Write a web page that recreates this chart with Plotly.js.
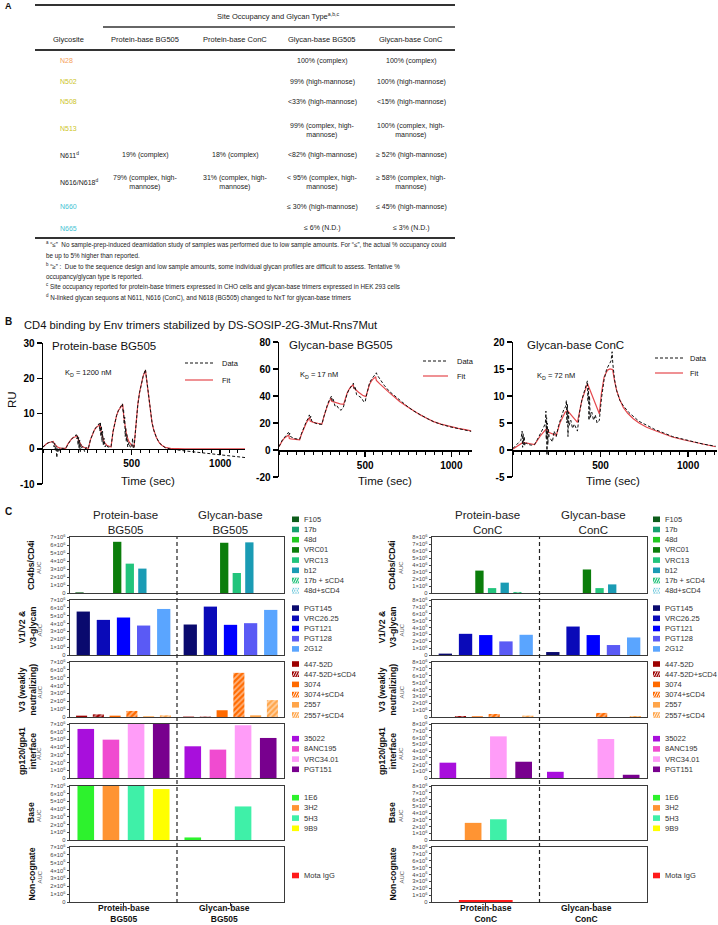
<!DOCTYPE html>
<html><head><meta charset="utf-8">
<script src="https://cdn.plot.ly/plotly-3.0.1.min.js"></script>
<style>html,body{margin:0;padding:0;background:#fff;}#chart{width:718px;height:925px;}</style>
</head><body><div id="chart"></div>
<script>
const FONT = 'Liberation Sans, Arial, sans-serif';
const W = 718, H = 925;
const PX = x => x / W, PY = y => 1 - y / H;

// ---------- Panel A: table ----------
const tableHeaders = ['Glycosite','Protein-base BG505','Protein-base ConC','Glycan-base BG505','Glycan-base ConC'];
const glycosites = ['N28','N502','N508','N513','N611<sup>d</sup>','N616/N618<sup>d</sup>','N660','N665'];
const siteColors = ['#f5a05a','#cdc51f','#cdc51f','#cdc51f','#222','#222','#45c3d3','#45c3d3'];
const proteinBG505 = ['','','','','19% (complex)','79% (complex, high-<br>mannose)','',''];
const proteinConC = ['','','','','18% (complex)','31% (complex, high-<br>mannose)','',''];
const glycanBG505 = ['100% (complex)','99% (high-mannose)','&lt;33% (high-mannose)','99% (complex, high-<br>mannose)','&lt;82% (high-mannose)','&lt; 95% (complex, high-<br>mannose)','≤ 30% (high-mannose)','≤ 6% (N.D.)'];
const glycanConC = ['100% (complex)','100% (high-mannose)','&lt;15% (high-mannose)','100% (complex, high-<br>mannose)','≥ 52% (high-mannose)','≥ 58% (complex, high-<br>mannose)','≤ 45% (high-mannose)','≤ 3% (N.D.)'];
const footnotes = [
 '<sup>a</sup> “≤”  No sample-prep-induced deamidation study of samples was performed due to low sample amounts. For “≤”, the actual % occupancy could',
 'be up to 5% higher than reported.',
 '<sup>b</sup> “≥” :  Due to the sequence design and low sample amounts, some individual glycan profiles are difficult to assess. Tentative %',
 'occupancy/glycan type is reported.',
 '<sup>c</sup> Site occupancy reported for protein-base trimers expressed in CHO cells and glycan-base trimers expressed in HEK 293 cells',
 '<sup>d</sup> N-linked glycan sequons at N611, N616 (ConC), and N618 (BG505) changed to NxT for glycan-base trimers'
];

// ---------- Panel B: SPR sensorgrams ----------
const sprTitles = ['Protein-base BG505','Glycan-base BG505','Glycan-base ConC'];
const sprKD = ['K<sub>D</sub> = 1200 nM','K<sub>D</sub> = 17 nM','K<sub>D</sub> = 72 nM'];
const pbFitT = [0,10,20,30,40,50,58,65,75,85,100,115,128,140,150,160,170,180,194,200,210,220,235,250,256,268,280,290,300,310,322,328,335,345,360,378,384,395,405,415,425,440,450,456,463,472,485,500,514,525,535,545,555,565,578,585,595,605,615,625,640,655,670,690,720,800,900,1000,1140];
const pbFitRU = [0.5,1.0,1.4,1.7,1.9,2.0,2.05,1.3,0.7,0.4,0.2,0.1,0.1,1.3,2.1,2.7,3.1,3.4,3.6,2.4,1.3,0.7,0.3,0.1,0.1,2.6,4.3,5.3,6.0,6.5,6.9,4.8,3.2,1.9,1.0,0.5,0.5,4.8,7.5,9.4,10.8,12.0,12.6,9.0,6.2,3.8,2.0,1.0,0.6,7.5,12.5,16.0,18.6,20.6,22.3,19.5,14.5,10.5,7.5,5.3,3.2,1.8,1.0,0.4,0.1,0,0,0,0];
const pbDataT = [0,10,20,30,40,50,56,60,63,66,70,74,78,82,88,95,105,115,128,140,150,160,170,180,188,192,195,198,201,204,207,210,214,218,225,235,242,250,256,268,280,290,300,310,318,321,324,327,330,333,336,340,344,350,358,365,378,384,395,405,415,425,440,448,452,455,458,461,464,467,470,474,478,485,492,500,506,509,514,525,535,545,555,565,578,585,595,605,615,625,640,655,670,690,720,800,900,1000,1140];
const pbDataRU = [0.5,1.0,1.4,1.7,1.9,2.0,1.9,1.2,0.5,1.6,-0.5,0.8,-2.5,0.3,-1.0,0.2,0.1,0.1,0.1,1.3,2.0,2.7,3.1,3.5,4.0,2.8,3.8,1.0,3.2,0.0,2.5,-1.0,1.2,0.3,0.6,-0.8,0.3,0.1,0.1,2.6,4.3,5.4,6.1,6.6,7.2,5.0,7.6,3.5,6.5,2.0,5.0,1.0,3.0,0.5,1.2,0.5,0.4,0.5,4.8,7.5,9.4,10.8,12.0,12.8,10.5,11.0,7.0,9.0,3.5,6.0,2.0,4.0,0.5,1.8,0.5,0.3,3.0,0.0,0.5,7.5,12.5,16.0,18.6,20.5,22.5,19.5,14.5,10.5,7.5,5.3,3.2,1.8,1.0,0.3,-0.1,-0.6,-1.2,-1.8,-2.5];
const gbFitT = [0,10,20,30,40,50,57,60,70,90,110,120,130,140,150,160,170,178,181,200,225,249,260,270,280,290,303,306,330,355,375,385,395,405,415,431,434,460,485,504,515,525,535,545,561,565,585,609,640,667,700,743,780,820,860,897,940,992,1040,1088,1115];
const gbFitRU = [2.5,5.0,7.0,8.6,9.8,10.6,11.0,8.5,8.2,7.9,7.7,7.6,11.5,15.0,18.0,20.5,22.5,24.2,21.5,20.5,19.8,19.2,24.5,29.0,32.5,35.5,38.5,36.0,35.0,34.2,33.8,38.5,42.0,44.5,46.5,48.3,46.0,43.0,40.5,39.5,45.0,48.5,50.8,52.5,54.0,51.5,49.0,46.0,42.5,39.6,36.0,32.2,29.0,26.0,23.3,21.0,19.2,17.3,16.0,14.9,14.2];
const gbDataT = [0,10,20,30,40,50,55,58,62,66,72,90,110,120,130,140,150,160,170,176,180,184,190,200,225,249,260,270,280,290,300,305,309,315,325,335,350,360,372,385,395,405,415,425,432,436,442,450,465,480,490,500,505,515,525,535,545,555,565,570,590,610,640,667,700,743,780,820,860,897,940,992,1040,1088,1115];
const gbDataRU = [2.5,5.2,7.5,9.0,10.5,11.5,13.0,11.0,12.5,10.0,9.5,8.5,8.0,8.0,12.0,15.5,18.5,21.5,23.5,26.0,23.5,25.0,21.5,20.5,19.2,19.0,24.5,29.5,33.0,36.5,38.5,40.0,36.0,37.5,32.5,33.0,30.0,29.5,31.0,37.5,41.5,44.5,46.5,48.0,49.5,45.5,47.0,41.0,40.0,38.5,36.0,35.5,39.0,45.5,49.5,52.0,53.8,55.5,57.2,55.5,51.5,48.0,43.5,40.5,36.8,32.5,29.0,26.0,23.3,21.0,19.0,17.2,15.8,14.6,13.8];
const gcFitT = [0,57,123,156,190,203,247,269,298,311,368,393,412,425,493,505,520,540,554,569,580,592,610,630,655,687,720,763,810,858,910,972,1030,1085,1157];
const gcFitRU = [0.2,1.4,1.0,2.6,3.9,3.3,2.7,5.1,7.0,7.3,5.1,9.2,11.0,12.3,6.7,10.5,13.5,14.8,15.0,14.9,12.8,11.0,9.3,7.9,6.8,5.8,5.0,4.2,3.6,3.0,2.4,1.9,1.5,1.1,0.6];
const gcDataT = [0,15,30,45,52,55,58,61,64,67,75,90,105,123,140,160,175,185,188,190,192,194,196,199,202,206,215,225,235,247,260,275,290,300,305,308,311,314,317,320,330,340,350,368,380,395,410,420,425,428,431,434,437,441,450,460,470,480,493,505,520,535,550,560,566,570,580,592,610,630,660,687,720,763,810,858,910,972,1030,1085,1157];
const gcDataRU = [0.3,0.8,1.3,1.8,3.5,0.5,3.0,1.0,2.5,0.8,1.3,1.0,0.9,1.0,2.0,3.2,4.2,5.0,7.2,2.0,6.0,-1.0,5.0,1.0,4.0,2.5,2.0,1.5,3.5,2.5,4.5,6.0,7.5,8.0,9.2,5.0,8.5,2.5,7.0,4.5,5.5,4.0,4.8,3.5,7.0,9.5,11.0,12.2,12.8,9.0,11.5,5.5,10.0,6.0,7.0,5.5,6.5,5.0,5.5,9.5,13.0,15.0,16.0,16.5,18.2,16.0,13.0,11.0,9.2,8.2,7.0,6.2,5.3,4.6,3.8,3.2,2.5,2.0,1.5,1.1,0.7];
const sprYTicks = [[-10,0,10,20,30],[-20,0,20,40,60,80],[-5,0,5,10,15,20]];
const sprXTicks = [500,1000];

// ---------- Panel C: AUC bar panels ----------
const bgCats = ['Protein-base BG505','Glycan-base BG505'];
const ccCats = ['Protein-base ConC','Glycan-base ConC'];
const panelLabels = ['CD4bs/CD4i','V1/V2 &amp;<br>V3-glycan','V3 (weakly<br>neutralizing)','gp120/gp41<br>interface','Base','Non-cognate'];

const cd4Names = ['F105','17b','48d','VRC01','VRC13','b12','17b + sCD4','48d+sCD4'];
const cd4_BG505_protein = [0.08e6,0,0,6.4e6,3.67e6,3.05e6,0,0];
const cd4_BG505_glycan  = [0,0,0,6.28e6,2.5e6,6.33e6,0,0];
const cd4_ConC_protein  = [0,0,0,3.2e6,0.7e6,1.48e6,0.15e6,0];
const cd4_ConC_glycan   = [0,0,0,3.36e6,0.7e6,1.23e6,0,0];

const v1v2Names = ['PGT145','VRC26.25','PGT121','PGT128','2G12'];
const v1v2_BG505_protein = [5.53e6,4.47e6,4.77e6,3.75e6,5.86e6];
const v1v2_BG505_glycan  = [3.88e6,6.16e6,3.84e6,4.05e6,5.74e6];
const v1v2_ConC_protein  = [0.2e6,3.08e6,2.9e6,1.98e6,2.94e6];
const v1v2_ConC_glycan   = [0.43e6,4.14e6,2.9e6,1.45e6,2.55e6];

const v3Names = ['447-52D','447-52D+sCD4','3074','3074+sCD4','2557','2557+sCD4'];
const v3_BG505_protein = [0.17e6,0.34e6,0.17e6,0.77e6,0.09e6,0.21e6];
const v3_BG505_glycan  = [0.05e6,0.05e6,0.86e6,5.62e6,0.21e6,2.15e6];
const v3_ConC_protein  = [0,0.15e6,0.1e6,0.44e6,0,0.2e6];
const v3_ConC_glycan   = [0,0,0,0.59e6,0,0.15e6];

const gpNames = ['35022','8ANC195','VRC34.01','PGT151'];
const gp_BG505_protein = [6.36e6,4.97e6,7.0e6,7.0e6];
const gp_BG505_glycan  = [4.11e6,3.68e6,6.84e6,5.19e6];
const gp_ConC_protein  = [2.27e6,0,6.17e6,2.41e6];
const gp_ConC_glycan   = [0.92e6,0,5.78e6,0.48e6];

const baseNames = ['1E6','3H2','5H3','9B9'];
const base_BG505_protein = [7.0e6,7.0e6,7.0e6,6.6e6];
const base_BG505_glycan  = [0.33e6,0,4.35e6,0];
const base_ConC_protein  = [0,2.54e6,3.07e6,0];
const base_ConC_glycan   = [0,0,0,0];

const ncNames = ['Mota IgG'];
const nc_BG505_protein = [0];
const nc_BG505_glycan  = [0];
const nc_ConC_protein  = [0.3e6];
const nc_ConC_glycan   = [0];

// styles
const cd4Colors = ['#0d5c1a','#17a070','#22c922','#0b7d0b','#22c47c','#1a9bb4','#2ac47e','#72c9dc'];
const cd4Patterns = ['','','','','','','/','x'];
const v1v2Colors = ['#0a0a6e','#0a0ab8','#0000ff','#5a5af5','#5aa5ff'];
const v3Colors = ['#9c0000','#9c0000','#ff6a00','#ff6a00','#ffa54a','#ffa54a'];
const v3Patterns = ['','/','','/','','/'];
const gpColors = ['#a80fdc','#f04bd0','#ff9cf8','#78008e'];
const baseColors = ['#2df22d','#ff9433','#3ff0a8','#ffff00'];
const ncColors = ['#ff1a1a'];

// ---------- build ----------
const traces = [], annotations = [], shapes = [];
const layout = {width:W, height:H, margin:{l:0,r:0,t:0,b:0,pad:0}, autosize:false,
  paper_bgcolor:'#fff', plot_bgcolor:'rgba(0,0,0,0)', showlegend:false,
  barmode:'group', bargap:0.06, bargroupgap:0.34, font:{family:FONT}};

function ann(text,x,y,o={}){
  annotations.push({text, xref:'paper', yref:'paper', x:PX(x), y:PY(y), showarrow:false,
    xanchor:o.xa||'center', yanchor:o.ya||'middle', textangle:o.angle||0, align:o.align||'center',
    font:{family:FONT, size:o.size||7, color:o.color||'#222'}});
}
function hline(x0,x1,y,w,color,dash){
  shapes.push({type:'line', xref:'paper', yref:'paper', x0:PX(x0), x1:PX(x1), y0:PY(y), y1:PY(y),
    line:{width:w, color:color||'#222', dash:dash||'solid'}});
}

// Panel letters
ann('<b>A</b>',3,6,{xa:'left',size:9,color:'#111'});
ann('<b>B</b>',3,321,{xa:'left',size:10,color:'#111'});
ann('<b>C</b>',3,511,{xa:'left',size:10,color:'#111'});

// Table
hline(35,455,5,2,'#333');
hline(103,455,27,1.3,'#333');
hline(35,455,50,1.8,'#333');
hline(35,455,238,1.8,'#333');
ann('Site Occupancy and Glycan Type<sup>a,b,c</sup>',278,16,{size:7.5});
const colCenters = [68,145,235,322,411];
tableHeaders.forEach((h,i)=>ann(h,colCenters[i],39,{size:7.5}));
const rowY = [61,82,102,130,155,182,207,228];
const cols = [proteinBG505, proteinConC, glycanBG505, glycanConC];
glycosites.forEach((g,r)=>{
  ann(g,58,r===3?128:rowY[r],{xa:'left',size:7,color:siteColors[r]});
  cols.forEach((c,ci)=>{ if(c[r]) ann(c[r],colCenters[ci+1],rowY[r],{size:7}); });
});
const footY = [245,256,267,277,287,297];
footnotes.forEach((f,i)=>ann(f,44,footY[i],{xa:'left',size:6.3,align:'left'}));

// Panel B
ann('CD4 binding by Env trimers stabilized by DS-SOSIP-2G-3Mut-Rns7Mut',22,325,{xa:'left',size:11.2,color:'#111'});
const sprSeries = [[pbFitT,pbFitRU,pbDataT,pbDataRU],[gbFitT,gbFitRU,gbDataT,gbDataRU],[gcFitT,gcFitRU,gcDataT,gcDataRU]];
const sprGeom = [
  {x:[43,245], y:[343,484], xr:[0,1140], yr:[-10,30], title:[50,346], kd:[63,373], leg:[185,213,363,380,220], tx:148},
  {x:[279,472], y:[342,477], xr:[0,1120], yr:[-20,80], title:[287,345], kd:[298,375], leg:[423,448,361,376,455], tx:385},
  {x:[513,717], y:[342,477], xr:[0,1165], yr:[-5,20], title:[525,345], kd:[535,376], leg:[655,683,358,373,688], tx:613}
];
sprGeom.forEach((g,i)=>{
  const n = i+1, sfx = n===1?'':String(n);
  const zeroPx = g.y[0] + (g.yr[1]-0)/(g.yr[1]-g.yr[0])*(g.y[1]-g.y[0]);
  layout['xaxis'+sfx] = {domain:[PX(g.x[0]),PX(g.x[1])], range:g.xr, anchor:'free', position:PY(zeroPx),
    showline:true, linecolor:'#000', linewidth:1.5, showgrid:false, zeroline:false,
    ticks:'outside', ticklen:5, tickwidth:1.5, tickcolor:'#000',
    tickmode:'array', tickvals:sprXTicks, ticktext:sprXTicks.map(v=>'<b>'+v+'</b>'),
    tickfont:{family:FONT,size:10,color:'#000'},
    minor:{tickmode:'linear', tick0:0, dtick:50, ticks:'outside', ticklen:3, tickwidth:1, tickcolor:'#000'}};
  layout['yaxis'+sfx] = {domain:[PY(g.y[1]),PY(g.y[0])], range:g.yr, anchor:'x'+sfx,
    showline:true, linecolor:'#000', linewidth:1.5, showgrid:false, zeroline:false,
    ticks:'outside', ticklen:5, tickwidth:1.5, tickcolor:'#000',
    tickmode:'array', tickvals:sprYTicks[i], ticktext:sprYTicks[i].map(v=>'<b>'+v+'</b>'),
    tickfont:{family:FONT,size:10,color:'#000'}};
  const s = sprSeries[i];
  traces.push({type:'scatter', mode:'lines', x:s[0], y:s[1], xaxis:'x'+sfx, yaxis:'y'+sfx,
    line:{color:'#e5484d', width:1.2}, hoverinfo:'skip'});
  traces.push({type:'scatter', mode:'lines', x:s[2], y:s[3], xaxis:'x'+sfx, yaxis:'y'+sfx,
    line:{color:'#111', width:1, dash:'3px,2px'}, hoverinfo:'skip'});
  ann(sprTitles[i], g.title[0], g.title[1], {xa:'left', size:11.5, color:'#111'});
  ann(sprKD[i], g.kd[0], g.kd[1], {xa:'left', size:7.5, color:'#111'});
  hline(g.leg[0], g.leg[1], g.leg[2], 1, '#111', '3px,2px');
  hline(g.leg[0], g.leg[1], g.leg[3], 1.2, '#e5484d');
  ann('Data', g.leg[4], g.leg[2], {xa:'left', size:7.5, color:'#111'});
  ann('Fit', g.leg[4], g.leg[3], {xa:'left', size:7.5, color:'#111'});
  ann('Time (sec)', g.tx, 481, {size:11.5, color:'#111'});
});
ann('RU',12,400,{angle:-90,size:11.5,color:'#111'});

// Panel C
const panels = [
  {names:cd4Names, colors:cd4Colors, patterns:cd4Patterns, bg:[cd4_BG505_protein,cd4_BG505_glycan], cc:[cd4_ConC_protein,cd4_ConC_glycan], legShift:-10},
  {names:v1v2Names, colors:v1v2Colors, patterns:[], bg:[v1v2_BG505_protein,v1v2_BG505_glycan], cc:[v1v2_ConC_protein,v1v2_ConC_glycan], legShift:1},
  {names:v3Names, colors:v3Colors, patterns:v3Patterns, bg:[v3_BG505_protein,v3_BG505_glycan], cc:[v3_ConC_protein,v3_ConC_glycan], legShift:0},
  {names:gpNames, colors:gpColors, patterns:[], bg:[gp_BG505_protein,gp_BG505_glycan], cc:[gp_ConC_protein,gp_ConC_glycan], legShift:3},
  {names:baseNames, colors:baseColors, patterns:[], bg:[base_BG505_protein,base_BG505_glycan], cc:[base_ConC_protein,base_ConC_glycan], legShift:0},
  {names:ncNames, colors:ncColors, patterns:[], bg:[nc_BG505_protein,nc_BG505_glycan], cc:[nc_ConC_protein,nc_ConC_glycan], legShift:1, width:0.5}
];
const panelRows = [[537,593],[600,655],[662,717],[724,778],[786,840],[847,902]];
const cols2 = [
  {key:'bg', cats:bgCats, x:[70,284], ymax:7, sq:292, lab1:31, lab2:27, auc:39, hdr:['Protein-base<br>BG505','Glycan-base<br>BG505']},
  {key:'cc', cats:ccCats, x:[432,647], ymax:8, sq:653, lab1:392, lab2:387, auc:401, hdr:['Protein-base<br>ConC','Glycan-base<br>ConC']}
];
cols2.forEach((c,ci)=>{
  const cw = c.x[1]-c.x[0];
  ann(c.hdr[0], c.x[0]+cw*0.25+2, 522, {size:11.5, color:'#222'});
  ann(c.hdr[1], c.x[0]+cw*0.75, 522, {size:11.5, color:'#222'});
  // bottom category labels
  c.cats.forEach((s,k)=>{
    const a = s.split(' ');
    ann('<b>'+a[0]+'</b><br><b>'+a[1]+'</b>', c.x[0]+cw*(k===0?0.25:0.72), 913, {size:8.5, color:'#111'});
  });
  panels.forEach((p,r)=>{
    const n = 4 + r + ci*6, sfx = String(n);
    const row = panelRows[r];
    const bottom = r===panels.length-1;
    const tv = [], tt = [];
    for(let v=0; v<=c.ymax; v++){ tv.push(v*1e6); tt.push(v===0?'0':v+'×10<sup>6</sup>'); }
    layout['xaxis'+sfx] = {domain:[PX(c.x[0]),PX(c.x[1])], anchor:'y'+sfx, type:'category',
      categoryarray:c.cats, range:[-0.5,1.5], showline:true, mirror:true, linecolor:'#3a3a3a', linewidth:1.3,
      showgrid:false, zeroline:false, ticks: bottom?'outside':'', ticklen:3, tickcolor:'#333',
      showticklabels:false, tickmode:'array', tickvals:c.cats};
    layout['yaxis'+sfx] = {domain:[PY(row[1]),PY(row[0])], anchor:'x'+sfx, range:[0,c.ymax*1e6],
      showline:true, mirror:true, linecolor:'#3a3a3a', linewidth:1.3, showgrid:false, zeroline:false,
      ticks:'outside', ticklen:2, tickcolor:'#444', tickmode:'array', tickvals:tv, ticktext:tt,
      tickfont:{family:FONT,size:5.8,color:'#444'}};
    p.names.forEach((name,k)=>{
      const marker = {color:p.colors[k], line:{width:0}};
      if(p.patterns[k]) marker.pattern = {shape:p.patterns[k], fillmode:'overlay', fgcolor:'#ffffff', size:4, solidity:0.45};
      const tr = {type:'bar', name, x:c.cats, y:[p[c.key][0][k], p[c.key][1][k]], xaxis:'x'+sfx, yaxis:'y'+sfx,
        marker, hoverinfo:'skip'};
      if(p.width) tr.width = p.width;
      traces.push(tr);
    });
    // legend (manual swatches)
    const nItems = p.names.length, step = 10.2;
    const y0 = (row[0]+row[1])/2 - (nItems-1)*step/2 + p.legShift;
    p.names.forEach((name,k)=>{
      const yc = y0 + k*step;
      shapes.push({type:'rect', xref:'paper', yref:'paper', x0:PX(c.sq), x1:PX(c.sq+7), y0:PY(yc+2.8), y1:PY(yc-2.8),
        fillcolor:p.colors[k], line:{width:0}});
      if(p.patterns[k]){
        [1.6,4.0,6.4].forEach(o=>{
          shapes.push({type:'line', xref:'paper', yref:'paper', x0:PX(c.sq+o-1.3), x1:PX(c.sq+o+1.3), y0:PY(yc+2.6), y1:PY(yc-2.6), line:{width:0.9,color:'#fff'}});
          if(p.patterns[k]==='x') shapes.push({type:'line', xref:'paper', yref:'paper', x0:PX(c.sq+o+1.3), x1:PX(c.sq+o-1.3), y0:PY(yc+2.6), y1:PY(yc-2.6), line:{width:0.9,color:'#fff'}});
        });
      }
      ann(name, c.sq+10, yc, {xa:'left', size:7.5, color:'#333'});
    });
    // labels
    const two = panelLabels[r].indexOf('<br>')>=0;
    ann('<b>'+panelLabels[r]+'</b>', two?c.lab2:c.lab1, (row[0]+row[1])/2, {angle:-90, size:8.7, color:'#111'});
    ann('AUC', c.auc, (row[0]+row[1])/2+3, {angle:-90, size:6, color:'#555'});
  });
  // dashed divider between the two categories
  const bottomAxis = 'x' + String(4 + 5 + ci*6);
  shapes.push({type:'line', xref:bottomAxis, yref:'paper', x0:0.5, x1:0.5, y0:PY(903), y1:PY(537),
    line:{width:1.2, color:'#222', dash:'4px,3px'}});
});

layout.annotations = annotations;
layout.shapes = shapes;
Plotly.newPlot('chart', traces, layout, {staticPlot:true, displayModeBar:false});
</script></body></html>
